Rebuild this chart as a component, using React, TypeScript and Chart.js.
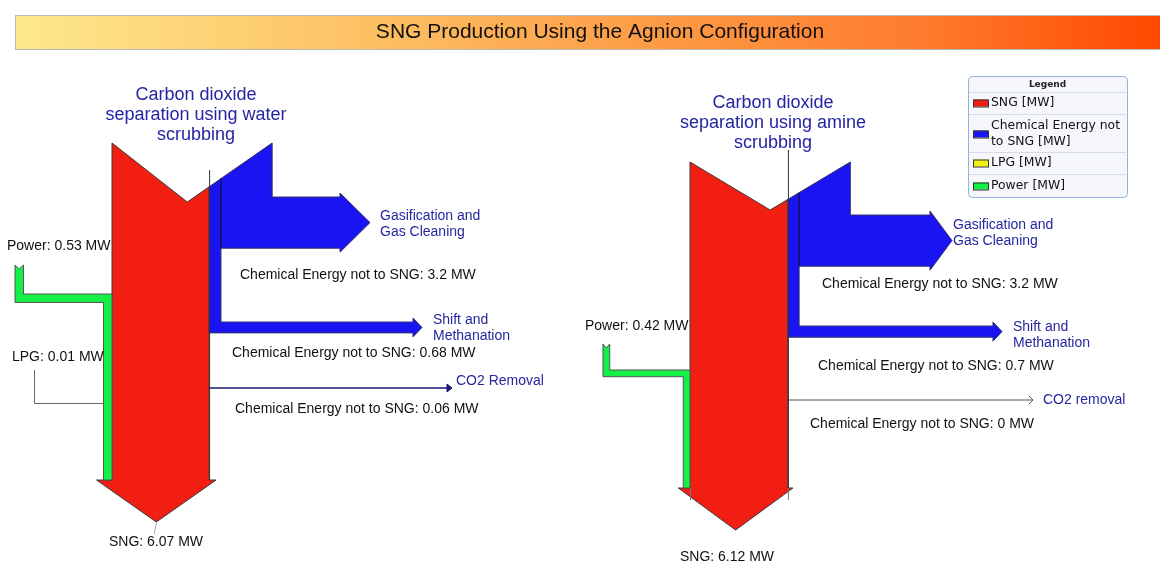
import React, { useEffect, useRef } from "react";
import { Chart, registerables } from "chart.js";
Chart.register(...registerables);

// ---------------- data (MW) ----------------
const titleText = "SNG Production Using the Agnion Configuration";
const configurations = ["water", "amine"];
const sngMW = [6.07, 6.12];
const gasCleaningMW = [3.2, 3.2];
const methanationMW = [0.68, 0.7];
const co2RemovalMW = [0.06, 0];
const powerMW = [0.53, 0.42];
const lpgMW: (number | null)[] = [0.01, null];
const co2Names = ["CO2 Removal", "CO2 removal"];
const legendLabels = [["SNG [MW]"], ["Chemical Energy not", "to SNG [MW]"], ["LPG [MW]"], ["Power [MW]"]];

// ---------------- styles / layout ----------------
const COLORS = { sng: "#f21e12", chem: "#1a14f2", lpg: "#f0f010", power: "#14f046" };
const PX_PER_MW = 16;
const FONT = "'Liberation Sans', Arial, sans-serif";
const W = 1160, H = 563;

const LAYOUT = [
  {
    x0: 112, y0: 143, vFrac: 0.47, vDepth: 59, headX: 196, headY: 95,
    gasTop: 197, gasHeadX: 340, gasTipX: 370, shiftTop: 322, shiftHeadX: 413,
    co2Y: 388, co2HeadX: 452, bottomY: 480, tipDepth: 42, wing: 7,
    gX: 15, gTop: 265, gTurn: 294, lpgX: 34, lpgTop: 370, lpgY: 403,
    gasLbl: [380, 216], chem1: [240, 275], shiftLbl: [433, 320], chem2: [232, 353],
    co2Lbl: [456, 381], chem3: [235, 409], powLbl: [7, 246], lpgLbl: [12, 357], sngLbl: [156, 542],
    leader: true, ticks: false, dividerTop: 170,
  },
  {
    x0: 690, y0: 162, vFrac: 0.5, vDepth: 48, headX: 773, headY: 103,
    gasTop: 215, gasHeadX: 930, gasTipX: 952, shiftTop: 326, shiftHeadX: 993,
    co2Y: 400, co2HeadX: 1033, bottomY: 488, tipDepth: 42, wing: 5,
    gX: 603, gTop: 344, gTurn: 370, lpgX: 0, lpgTop: 0, lpgY: 0,
    gasLbl: [953, 225], chem1: [822, 284], shiftLbl: [1013, 327], chem2: [818, 366],
    co2Lbl: [1043, 400], chem3: [810, 424], powLbl: [585, 326], lpgLbl: [0, 0], sngLbl: [727, 557],
    leader: false, ticks: true, dividerTop: 150,
  },
];

const fmt = (v: number) => String(v);

const sankeyPlugin = {
  id: "sankeyDraw",
  afterDraw(chart: any) {
    const ctx: CanvasRenderingContext2D = chart.ctx;
    const xs = chart.scales.x, ys = chart.scales.y;
    const X = (v: number) => xs.getPixelForValue(v);
    const Y = (v: number) => ys.getPixelForValue(v);

    const poly = (pts: number[][], fill: string | null, stroke: string | null, lw = 1) => {
      ctx.beginPath();
      pts.forEach((p, i) => (i ? ctx.lineTo(X(p[0]), Y(p[1])) : ctx.moveTo(X(p[0]), Y(p[1]))));
      ctx.closePath();
      if (fill) { ctx.fillStyle = fill; ctx.fill(); }
      if (stroke) { ctx.strokeStyle = stroke; ctx.lineWidth = lw; ctx.stroke(); }
    };
    const line = (pts: number[][], color: string, lw = 1) => {
      ctx.beginPath();
      pts.forEach((p, i) => (i ? ctx.lineTo(X(p[0]), Y(p[1])) : ctx.moveTo(X(p[0]), Y(p[1]))));
      ctx.strokeStyle = color; ctx.lineWidth = lw; ctx.stroke();
    };
    const text = (s: string, x: number, y: number, font: string, color: string, align: CanvasTextAlign = "left") => {
      ctx.font = font; ctx.fillStyle = color; ctx.textAlign = align; ctx.textBaseline = "middle";
      ctx.fillText(s, X(x), Y(y));
    };

    ctx.save();
    // ---- title bar ----
    const g = ctx.createLinearGradient(X(15), 0, X(W), 0);
    g.addColorStop(0, "#fde98c");
    g.addColorStop(0.3, "#fdc265");
    g.addColorStop(0.55, "#fd9c47");
    g.addColorStop(0.8, "#fe7a2c");
    g.addColorStop(1, "#ff4800");
    ctx.fillStyle = g;
    ctx.fillRect(X(15), Y(15), X(W) - X(15), Y(49) - Y(15));
    ctx.strokeStyle = "#b8b8b8"; ctx.lineWidth = 1;
    ctx.strokeRect(X(15) + 0.5, Y(15) + 0.5, X(W) - X(15), Y(49) - Y(15));
    text(titleText, 600, 32.5, `21px ${FONT}`, "#111", "center");

    const blueTxt = "#26269e";
    const lblFont = `14px ${FONT}`;

    configurations.forEach((cfg, i) => {
      const L: any = LAYOUT[i];
      const redW = sngMW[i] * PX_PER_MW;
      const gasW = gasCleaningMW[i] * PX_PER_MW;
      const methW = methanationMW[i] * PX_PER_MW;
      const co2W = Math.max(co2RemovalMW[i] * PX_PER_MW, 1);
      const stripW = (methanationMW[i] + co2RemovalMW[i]) * PX_PER_MW;
      const gW = powerMW[i] * PX_PER_MW;
      const x0 = L.x0, y0 = L.y0;
      const xm = x0 + redW;
      const xs2 = xm + stripW;
      const xr = xs2 + gasW;
      const vx = x0 + (xr - x0) * L.vFrac, vy = y0 + L.vDepth;
      const yV = (x: number) => (x <= vx ? y0 + ((x - x0) / (vx - x0)) * L.vDepth : y0 + ((xr - x) / (xr - vx)) * L.vDepth);
      const bY = L.bottomY;
      const leftWing = x0 - gW - L.wing, rightWing = xm + L.wing;
      const cx = (leftWing + rightWing) / 2;

      // heading
      const head = ["Carbon dioxide", `separation using ${cfg}`, "scrubbing"];
      head.forEach((s, k) => text(s, L.headX, L.headY + k * 20, `18px ${FONT}`, "#2424a4", "center"));

      // red SNG body with bottom arrow
      poly([[x0, y0], [vx, vy], [xm, yV(xm)], [xm, bY], [rightWing, bY], [cx, bY + L.tipDepth], [leftWing, bY], [x0, bY]],
        COLORS.sng, "#3a3a3a");

      // blue chemical energy not to SNG
      const gasBot = L.gasTop + gasW;
      const gasMid = (L.gasTop + gasBot) / 2;
      const shBot = L.shiftTop + methW;
      const shMid = (L.shiftTop + shBot) / 2;
      poly([
        [xm, yV(xm)], [vx < xm ? xm : vx, vx < xm ? yV(xm) : vy], [xr, y0], [xr, L.gasTop], [L.gasHeadX, L.gasTop],
        [L.gasHeadX, L.gasTop - 4], [L.gasTipX, gasMid], [L.gasHeadX, gasBot + 4], [L.gasHeadX, gasBot],
        [xs2, gasBot], [xs2, L.shiftTop], [L.shiftHeadX, L.shiftTop], [L.shiftHeadX, L.shiftTop - 4],
        [L.shiftHeadX + 9, shMid], [L.shiftHeadX, shBot + 4], [L.shiftHeadX, shBot], [xm, shBot],
      ], COLORS.chem, "#333366");
      // flow divider inside blue
      line([[xs2, yV(xs2)], [xs2, gasBot]], "#101030", 1.2);

      // CO2 removal flow
      if (co2RemovalMW[i] > 0) {
        line([[xm, L.co2Y], [L.co2HeadX - 4, L.co2Y]], "#1a1a70", co2W + 0.5);
        poly([[L.co2HeadX - 5, L.co2Y - 4], [L.co2HeadX, L.co2Y], [L.co2HeadX - 5, L.co2Y + 4]], "#1a1a70", "#1a1a70");
      } else {
        line([[xm, L.co2Y], [L.co2HeadX, L.co2Y]], "#555", 1);
        line([[L.co2HeadX - 4, L.co2Y - 4], [L.co2HeadX, L.co2Y], [L.co2HeadX - 4, L.co2Y + 4]], "#555", 1);
      }

      // node divider line
      line([[xm + 0.5, L.dividerTop], [xm + 0.5, bY]], "#333", 1);
      if (L.ticks) {
        line([[x0 + 0.5, bY], [x0 + 0.5, bY + 12]], "#777", 1);
        line([[xm + 0.5, bY], [xm + 0.5, bY + 12]], "#777", 1);
      }

      // green power
      const gx = L.gX;
      poly([
        [gx, L.gTop], [gx + gW / 2, L.gTop + 4], [gx + gW, L.gTop], [gx + gW, L.gTurn], [x0, L.gTurn],
        [x0, bY], [x0 - gW, bY], [x0 - gW, L.gTurn + gW], [gx, L.gTurn + gW],
      ], COLORS.power, "#555");

      // LPG
      const lpg = lpgMW[i];
      if (lpg !== null) {
        line([[L.lpgX + 0.5, L.lpgTop], [L.lpgX + 0.5, L.lpgY + 0.5], [x0 - gW, L.lpgY + 0.5]], "#666", Math.max(lpg * PX_PER_MW, 1));
        text(`LPG: ${fmt(lpg)} MW`, L.lpgLbl[0], L.lpgLbl[1], lblFont, "#111");
      }

      // labels
      text("Gasification and", L.gasLbl[0], L.gasLbl[1], lblFont, blueTxt);
      text("Gas Cleaning", L.gasLbl[0], L.gasLbl[1] + 16, lblFont, blueTxt);
      text(`Chemical Energy not to SNG: ${fmt(gasCleaningMW[i])} MW`, L.chem1[0], L.chem1[1], lblFont, "#111");
      text("Shift and", L.shiftLbl[0], L.shiftLbl[1], lblFont, blueTxt);
      text("Methanation", L.shiftLbl[0], L.shiftLbl[1] + 16, lblFont, blueTxt);
      text(`Chemical Energy not to SNG: ${fmt(methanationMW[i])} MW`, L.chem2[0], L.chem2[1], lblFont, "#111");
      text(co2Names[i], L.co2Lbl[0], L.co2Lbl[1], lblFont, blueTxt);
      text(`Chemical Energy not to SNG: ${fmt(co2RemovalMW[i])} MW`, L.chem3[0], L.chem3[1], lblFont, "#111");
      text(`Power: ${fmt(powerMW[i])} MW`, L.powLbl[0], L.powLbl[1], lblFont, "#111");
      if (L.leader) line([[cx, bY + L.tipDepth + 1], [cx - 2, bY + L.tipDepth + 12]], "#aaa", 1);
      text(`SNG: ${fmt(sngMW[i])} MW`, L.sngLbl[0], L.sngLbl[1], lblFont, "#111", "center");
    });

    // ---- legend ----
    const lx = 968, ly = 76, lw = 159, lh = 121;
    ctx.beginPath();
    ctx.roundRect(X(lx) + 0.5, Y(ly) + 0.5, X(lx + lw) - X(lx), Y(ly + lh) - Y(ly), 4);
    ctx.fillStyle = "#f6f7fb"; ctx.fill();
    ctx.strokeStyle = "#93b3d8"; ctx.lineWidth = 1; ctx.stroke();
    const LFONT = "'DejaVu Sans', Verdana, sans-serif";
    text("Legend", lx + lw / 2, 85, `bold 9px ${LFONT}`, "#222", "center");
    const seps = [92, 114, 152, 174];
    seps.forEach((s) => line([[lx + 1, s + 0.5], [lx + lw - 1, s + 0.5]], "#d6dbe6", 1));
    const rowY = [[103], [126, 142], [163], [186]];
    const sw = [COLORS.sng, COLORS.chem, COLORS.lpg, COLORS.power];
    legendLabels.forEach((lab, k) => {
      const ys2 = rowY[k];
      const mid = (ys2[0] + ys2[ys2.length - 1]) / 2;
      ctx.fillStyle = sw[k];
      ctx.fillRect(X(973), Y(mid - 3.5), 15, 7);
      ctx.strokeStyle = "#333"; ctx.lineWidth = 1;
      ctx.strokeRect(X(973) + 0.5, Y(mid - 3.5) + 0.5, 15, 7);
      lab.forEach((s, j) => text(s, 991, ys2[j], `12.4px ${LFONT}`, "#111"));
    });
    ctx.restore();
  },
};

export default function App() {
  const ref = useRef<HTMLCanvasElement | null>(null);
  useEffect(() => {
    document.body.style.margin = "0";
    const chart = new Chart(ref.current as HTMLCanvasElement, {
      type: "scatter",
      data: { datasets: [{ label: "flows", data: [], pointRadius: 0 }] },
      options: {
        animation: false,
        responsive: false,
        devicePixelRatio: 1,
        layout: { padding: 0 },
        plugins: { legend: { display: false }, tooltip: { enabled: false }, title: { display: false } },
        scales: {
          x: { type: "linear", min: 0, max: W, display: false },
          y: { type: "linear", min: 0, max: H, reverse: true, display: false },
        },
      },
      plugins: [sankeyPlugin],
    });
    return () => chart.destroy();
  }, []);
  return (
    <div style={{ position: "absolute", left: 0, top: 0, width: W, height: H, background: "#fff" }}>
      <canvas ref={ref} width={W} height={H} style={{ width: W, height: H }} />
    </div>
  );
}
